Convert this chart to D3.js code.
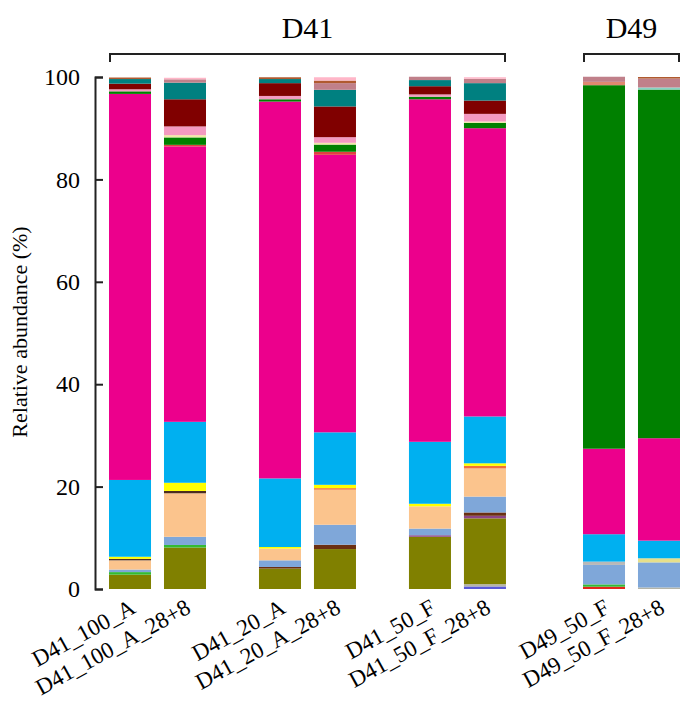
<html lang="en">
<head>
<meta charset="utf-8">
<style type="text/css">
    body { margin: 0; background: #fff; }
    svg text { font-family: "Liberation Serif", "Times New Roman", serif !important; fill: #000; }
</style>
</head>
<body>
<svg width="680" height="702"></svg>
<script src="https://d3js.org/d3.v7.min.js"></script>
<script type="text/javascript">
    // samples, bottom-to-top taxa and their share (%) per sample
    var samples = ["D41_100_A", "D41_100_A_28+8", "D41_20_A", "D41_20_A_28+8",
                   "D41_50_F", "D41_50_F_28+8", "D49_50_F", "D49_50_F_28+8"];
    var panels = ["D41", "D49"];
    var treatments = ["", "_28+8"];
    var yTicks = [0, 20, 40, 60, 80, 100];

    var taxa = ["red", "violet", "silver", "olive", "lime", "plum", "brown", "lightblue",
                "grey", "khaki", "peach", "dark", "orange", "yellow", "skyblue", "magenta",
                "red2", "green", "lightyellow", "pink", "darkred", "teal", "mint", "salmon",
                "rose", "sienna", "blush"];
    var colors = ["#e3261c", "#5a5ad8", "#b4b4a8", "#808000", "#33bb33", "#8e4585", "#6b2f12", "#7fa7d9",
                  "#b8b8b8", "#e6df8a", "#fbc48d", "#4b2c20", "#f0703a", "#ffff00", "#00b0f0", "#ec008c",
                  "#e04040", "#008000", "#f2e8a8", "#f49ac1", "#800000", "#008080", "#86d3c4", "#e08870",
                  "#c0808a", "#b05a30", "#ffb6c8"];

    var red         = [0,   0,    0,    0,    0,    0,    0.45, 0];
    var violet      = [0,   0,    0,    0,    0,    0.5,  0,    0];
    var silver      = [0,   0,    0,    0,    0,    0.45, 0,    0.3];
    var olive       = [2.8, 8.1,  4.0,  7.8,  10.2, 12.85, 0,   0];
    var lime        = [0.5, 0.5,  0,    0,    0,    0,    0.45, 0];
    var plum        = [0,   0,    0,    0,    0.3,  0.5,  0,    0];
    var brown       = [0,   0,    0.3,  0.85, 0,    0.65, 0,    0];
    var lightblue   = [0.5, 1.6,  1.3,  3.9,  1.3,  3.1,  3.8,  4.9];
    var grey        = [0,   0,    0,    0,    0,    0,    0.65, 0];
    var khaki       = [0,   0,    0,    0,    0,    0,    0,    0.8];
    var peach       = [1.8, 8.5,  2.3,  6.85, 4.35, 5.5,  0,    0];
    var dark        = [0.3, 0.45, 0,    0,    0,    0,    0,    0];
    var orange      = [0,   0,    0,    0.3,  0,    0.5,  0,    0];
    var yellow      = [0.4, 1.6,  0.3,  0.65, 0.5,  0.5,  0,    0];
    var skyblue     = [15.0, 11.9, 13.4, 10.25, 12.1, 9.15, 5.35, 3.45];
    var magenta     = [75.4, 53.8, 73.6, 54.2, 66.9, 56.3, 16.7, 20.0];
    var red2        = [0,   0.3,  0,    0.6,  0,    0,    0,    0];
    var green       = [0.5, 1.45, 0.45, 1.4,  0.5,  1.05, 71.0, 68.1];
    var lightyellow = [0,   0.45, 0,    0.35, 0,    0.25, 0,    0];
    var pink        = [0.4, 1.7,  0.65, 1.1,  0.45, 1.5,  0,    0];
    var darkred     = [1.1, 5.3,  2.5,  6.0,  1.6,  2.6,  0,    0];
    var teal        = [0.9, 3.25, 0.8,  3.25, 1.2,  3.4,  0,    0];
    var mint        = [0,   0,    0,    0,    0,    0,    0,    0.4];
    var salmon      = [0,   0,    0,    0,    0,    0,    0.65, 0];
    var rose        = [0,   0.65, 0,    1.3,  0.65, 0.85, 1.0,  1.75];
    var sienna      = [0.3, 0,    0.35, 0.5,  0,    0,    0,    0.3];
    var blush       = [0,   0.3,  0,    0.65, 0,    0.3,  0,    0];

    var values = [red, violet, silver, olive, lime, plum, brown, lightblue, grey, khaki,
                  peach, dark, orange, yellow, skyblue, magenta, red2, green, lightyellow,
                  pink, darkred, teal, mint, salmon, rose, sienna, blush];

    var rows = samples.map(function (s, i) {
        var r = {sample: s};
        taxa.forEach(function (t, j) { r[t] = values[j][i]; });
        return r;
    });

    var serif = "Liberation Serif, Times New Roman, serif";
    var svg = d3.select("svg");

    var y = d3.scaleLinear().domain([0, 100]).range([589, 77]);

    var groupOf = function (s) { return s.replace("_28+8", ""); };
    var treatOf = function (s) { return s.indexOf("_28+8") >= 0 ? "_28+8" : ""; };
    var groupsIn = function (p) {
        return Array.from(new Set(samples.map(groupOf).filter(function (g) { return g.indexOf(p) === 0; })));
    };

    var outer = {
        D41: d3.scaleBand().domain(groupsIn("D41")).range([109, 506]).paddingInner(0.353),
        D49: d3.scaleBand().domain(groupsIn("D49")).range([583, 680])
    };
    var inner = d3.scaleBand().domain(treatments).range([0, 97]).paddingInner(0.236);

    function x(s) {
        var g = groupOf(s);
        return outer[g.slice(0, 3)](g) + inner(treatOf(s));
    }

    var color = d3.scaleOrdinal().domain(taxa).range(colors);
    var series = d3.stack().keys(taxa)(rows);

    svg.append("g").selectAll("g")
        .data(series)
        .enter().append("g")
        .attr("fill", function (d) { return color(d.key); })
        .selectAll("rect")
        .data(function (d) { return d; })
        .enter().append("rect")
        .attr("x", function (d) { return x(d.data.sample); })
        .attr("width", inner.bandwidth())
        .attr("y", function (d) { return y(d[1]); })
        .attr("height", function (d) { return Math.max(0, y(d[0]) - y(d[1])); });

    // y axis with inward ticks
    var yAxis = svg.append("g")
        .attr("transform", "translate(95,0)")
        .attr("font-family", serif)
        .call(d3.axisLeft(y).tickValues(yTicks).tickSize(-8).tickPadding(15));
    yAxis.attr("font-family", serif).attr("font-size", 24);
    yAxis.selectAll("path, line").attr("stroke", "#222").attr("stroke-width", 2);
    yAxis.selectAll("text").attr("fill", "#000");

    svg.append("text")
        .attr("transform", "translate(27,332) rotate(-90)")
        .attr("text-anchor", "middle")
        .attr("font-family", serif)
        .attr("font-size", 22)
        .text("Relative abundance (%)");

    // sample labels
    svg.append("g").selectAll("text")
        .data(samples)
        .enter().append("text")
        .attr("text-anchor", "end")
        .attr("font-family", serif)
        .attr("font-size", 23)
        .attr("transform", function (s) {
            return "translate(" + (x(s) + inner.bandwidth() / 2 + 7) + ",612) rotate(-29)";
        })
        .text(function (s) { return s; });

    // panel brackets
    panels.forEach(function (p) {
        var r = outer[p].range();
        var x0 = r[0] + 1, x1 = Math.min(r[1] - 1, 679);
        svg.append("path")
            .attr("d", "M" + x0 + ",62V54H" + x1 + "V62")
            .attr("fill", "none")
            .attr("stroke", "#222")
            .attr("stroke-width", 2);
        svg.append("text")
            .attr("x", (r[0] + r[1]) / 2)
            .attr("y", 38)
            .attr("text-anchor", "middle")
            .attr("font-family", serif)
            .attr("font-size", 30)
            .text(p);
    });
</script>
</body>
</html>
